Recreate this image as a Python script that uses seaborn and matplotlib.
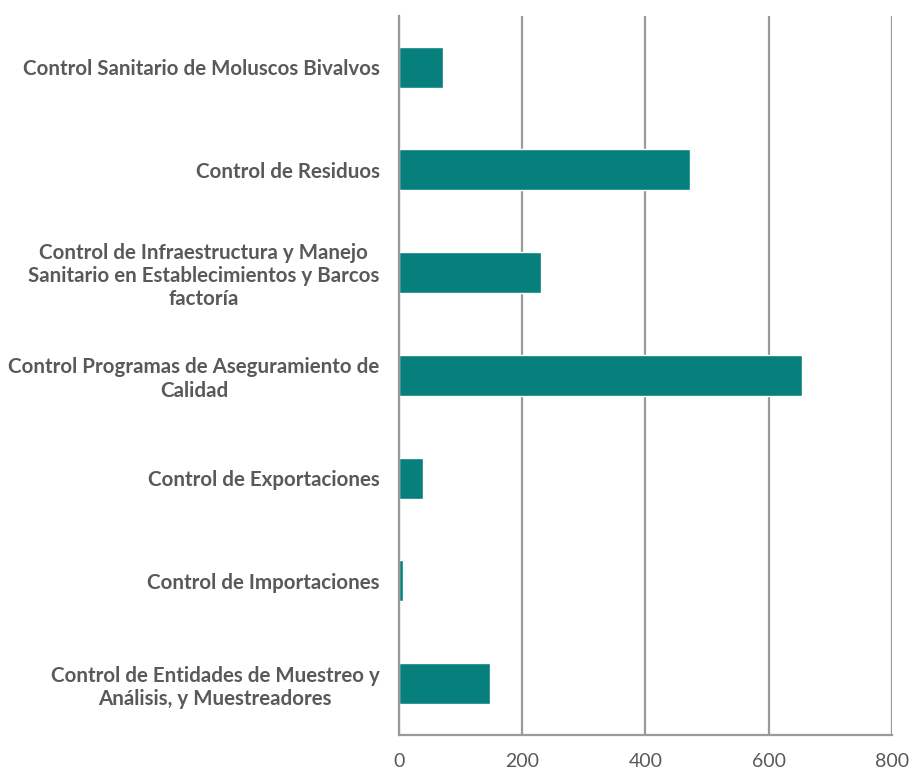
import matplotlib
matplotlib.use("Agg")
import matplotlib.pyplot as plt
import seaborn as sns
import pandas as pd

categories = [
    "Control Sanitario de Moluscos Bivalvos",
    "Control de Residuos",
    "Control de Infraestructura y Manejo\nSanitario en Establecimientos y Barcos\nfactoría",
    "Control Programas de Aseguramiento de\nCalidad",
    "Control de Exportaciones",
    "Control de Importaciones",
    "Control de Entidades de Muestreo y\nAnálisis, y Muestreadores",
]
values = [72, 472, 231, 654, 39, 6, 147]
x_ticks = [0, 200, 400, 600, 800]

sns.set_theme(style="white")
plt.rcParams["font.family"] = ["Lato", "DejaVu Sans"]

df = pd.DataFrame({"categoria": categories, "valor": values})

fig = plt.figure(figsize=(9.09, 7.70), dpi=100)
ax = fig.add_axes([0.439, 0.0455, 0.542, 0.934])

sns.barplot(data=df, y="categoria", x="valor", orient="h", color="#067F7D",
            saturation=1, width=0.4, ax=ax)

grid_c = "#9a9a9a"
ax.set_xlim(0, 800)
ax.set_xticks(x_ticks)
ax.set_xticklabels([str(t) for t in x_ticks], fontsize=14, color="#595959")
ax.xaxis.grid(True, color=grid_c, linewidth=1.6)
ax.set_axisbelow(True)
for s in ["top", "right"]:
    ax.spines[s].set_visible(False)
for s in ["left", "bottom"]:
    ax.spines[s].set_color(grid_c)
    ax.spines[s].set_linewidth(1.6)
ax.tick_params(axis="x", direction="out", length=6, width=1.6, color=grid_c, pad=7)
ax.tick_params(axis="y", length=0, pad=14)
for lbl in ax.get_yticklabels():
    lbl.set_fontsize(14.8)
    lbl.set_fontweight("bold")
    lbl.set_color("#595959")
    lbl.set_multialignment("center")
    lbl.set_linespacing(1.2)
ax.set_xlabel("")
ax.set_ylabel("")

fig.savefig("out.png", dpi=100)
